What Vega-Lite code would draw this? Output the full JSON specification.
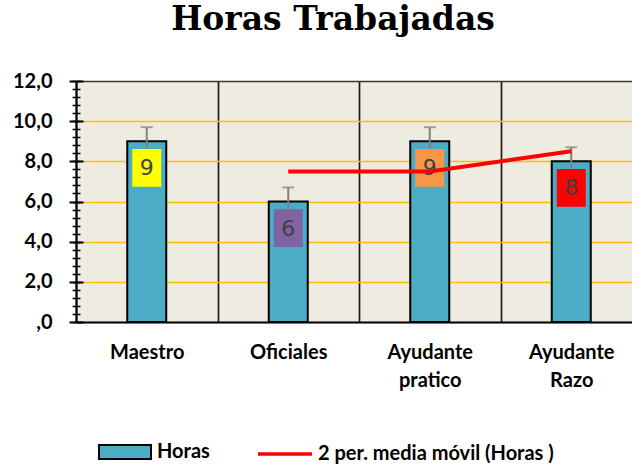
{
  "$schema": "https://vega.github.io/schema/vega-lite/v6.json",
  "autosize": {"type": "none"},
  "padding": {"left": 76, "top": 81, "right": 0, "bottom": 144},
  "width": 556,
  "height": 241,
  "background": "#FFFFFF",
  "title": {
    "text": "Horas Trabajadas",
    "font": "DejaVu Serif",
    "fontSize": 33,
    "fontWeight": "bold",
    "color": "#000000",
    "anchor": "middle",
    "baseline": "alphabetic",
    "dx": -21,
    "offset": 8
  },
  "data": {
    "values": [
      {"cat": "Maestro", "horas": 9, "lo": 8.3, "hi": 9.7, "media": null},
      {"cat": "Oficiales", "horas": 6, "lo": 5.3, "hi": 6.7, "media": 7.5},
      {"cat": "Ayudante pratico", "horas": 9, "lo": 8.3, "hi": 9.7, "media": 7.5},
      {"cat": "Ayudante Razo", "horas": 8, "lo": 7.3, "hi": 8.7, "media": 8.5}
    ]
  },
  "encoding": {
    "x": {
      "field": "cat",
      "type": "nominal",
      "sort": null,
      "scale": {
        "domain": ["Maestro", "Oficiales", "Ayudante pratico", "Ayudante Razo"],
        "range": [0, 566],
        "paddingInner": 0,
        "paddingOuter": 0
      },
      "axis": {
        "title": null,
        "domain": true,
        "domainColor": "#000000",
        "domainWidth": 2,
        "ticks": false,
        "labelFont": "Lato",
        "labelFontSize": 20,
        "labelFontWeight": "bold",
        "labelColor": "#000000",
        "labelPadding": 20,
        "labelAngle": 0,
        "labelBaseline": "top",
        "labelExpr": "split(datum.label, ' ')",
        "labelLineHeight": 28,
        "grid": true,
        "gridColor": "#1a1a1a",
        "gridWidth": 1.7,
        "tickBand": "extent"
      }
    }
  },
  "layer": [
    {
      "mark": {"type": "bar", "width": 39, "stroke": "#000000", "strokeWidth": 2},
      "encoding": {
        "y": {
          "field": "horas",
          "type": "quantitative",
          "scale": {"domain": [0, 12], "nice": false},
          "axis": {
            "orient": "left",
            "title": null,
            "values": [0, 2, 4, 6, 8, 10, 12],
            "domain": true,
            "domainColor": "#000000",
            "domainWidth": 2,
            "ticks": true,
            "tickSize": 7,
            "tickColor": "#000000",
            "tickWidth": 2,
            "labelFont": "Lato",
            "labelFontSize": 20,
            "labelFontWeight": "bold",
            "labelColor": "#000000",
            "labelPadding": 17,
            "labelFlush": false,
            "labelOverlap": false,
            "labelExpr": "datum.value == 0 ? ',0' : replace(format(datum.value, '.1f'), '.', ',')",
            "grid": true,
            "gridColor": {"condition": {"test": "datum.value == 12", "value": "#3a3a2a"}, "value": "#FFC000"},
            "gridWidth": 1.5
          }
        },
        "fill": {
          "datum": "Horas",
          "scale": {"range": ["#4BACC6"]},
          "legend": {
            "orient": "none",
            "legendX": 22,
            "legendY": 344,
            "title": null,
            "padding": 0,
            "symbolType": "M-1,-0.27H1V0.27H-1Z",
            "symbolSize": 2704,
            "symbolStrokeColor": "#000000",
            "symbolStrokeWidth": 2,
            "symbolOpacity": 1,
            "labelFont": "Lato",
            "labelFontSize": 20,
            "labelFontWeight": "bold",
            "labelColor": "#000000",
            "labelOffset": 5,
            "labelLimit": 400
          }
        }
      }
    },
    {
      "mark": {"type": "rule", "color": "#808080", "strokeWidth": 2},
      "encoding": {
        "y": {
          "field": "lo",
          "type": "quantitative",
          "axis": {
            "orient": "left",
            "title": null,
            "values": [0, 2, 4, 6, 8, 10, 12],
            "domain": false,
            "labels": false,
            "grid": false,
            "ticks": true,
            "tickSize": -7,
            "tickColor": "#000000",
            "tickWidth": 2
          }
        },
        "y2": {"field": "hi"}
      }
    },
    {
      "mark": {"type": "tick", "color": "#808080", "size": 12, "thickness": 2},
      "encoding": {
        "y": {
          "field": "hi",
          "type": "quantitative",
          "axis": {
            "orient": "left",
            "title": null,
            "values": [0, 0.4, 0.8, 1.2, 1.6, 2, 2.4, 2.8, 3.2, 3.6, 4, 4.4, 4.8, 5.2, 5.6, 6, 6.4, 6.8, 7.2, 7.6, 8, 8.4, 8.8, 9.2, 9.6, 10, 10.4, 10.8, 11.2, 11.6, 12],
            "domain": false,
            "labels": false,
            "grid": false,
            "ticks": true,
            "tickSize": 4,
            "tickColor": "#000000",
            "tickWidth": 1.5
          }
        }
      }
    },
    {
      "mark": {"type": "bar", "width": 29, "yOffset": 7.7, "y2Offset": 45.4},
      "encoding": {
        "y": {
          "field": "horas",
          "type": "quantitative",
          "axis": {
            "orient": "left",
            "title": null,
            "values": [0, 0.4, 0.8, 1.2, 1.6, 2, 2.4, 2.8, 3.2, 3.6, 4, 4.4, 4.8, 5.2, 5.6, 6, 6.4, 6.8, 7.2, 7.6, 8, 8.4, 8.8, 9.2, 9.6, 10, 10.4, 10.8, 11.2, 11.6, 12],
            "domain": false,
            "labels": false,
            "grid": false,
            "ticks": true,
            "tickSize": -4,
            "tickColor": "#000000",
            "tickWidth": 1.5
          }
        },
        "y2": {"field": "horas"},
        "color": {
          "field": "cat",
          "type": "nominal",
          "scale": {
            "domain": ["Maestro", "Oficiales", "Ayudante pratico", "Ayudante Razo"],
            "range": ["#FFFF00", "#8064A2", "#F79646", "#FF0000"]
          },
          "legend": null
        }
      }
    },
    {
      "mark": {"type": "text", "font": "DejaVu Sans", "fontSize": 22, "color": "#404040", "align": "center", "baseline": "middle", "dy": 27},
      "encoding": {
        "y": {"field": "horas", "type": "quantitative", "axis": null},
        "text": {"field": "horas", "type": "quantitative"}
      }
    },
    {
      "mark": {"type": "line", "strokeWidth": 4},
      "encoding": {
        "y": {"field": "media", "type": "quantitative", "axis": null},
        "stroke": {
          "datum": "2 per. media móvil (Horas )",
          "scale": {"range": ["#FF0000"]},
          "legend": {
            "orient": "none",
            "legendX": 180,
            "legendY": 344,
            "title": null,
            "padding": 0,
            "symbolType": "stroke",
            "symbolSize": 2916,
            "symbolStrokeWidth": 3.5,
            "labelFont": "Lato",
            "labelFontSize": 20,
            "labelFontWeight": "bold",
            "labelColor": "#000000",
            "labelOffset": 4,
            "labelLimit": 400
          }
        }
      }
    }
  ],
  "resolve": {"axis": {"y": "independent"}},
  "config": {
    "view": {"fill": "#EEEBE0", "stroke": null}
  }
}
